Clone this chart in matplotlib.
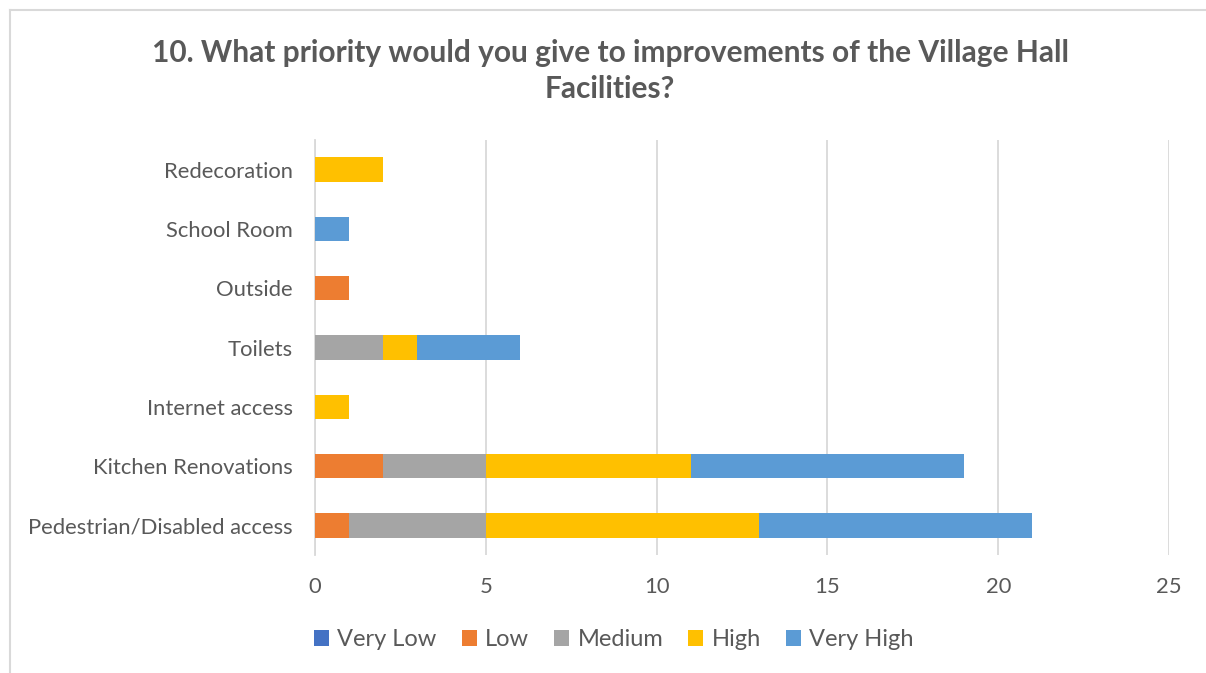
import matplotlib
matplotlib.use("Agg")
import matplotlib.pyplot as plt
from matplotlib.lines import Line2D
import numpy as np

categories = ["Pedestrian/Disabled access", "Kitchen Renovations", "Internet access",
              "Toilets", "Outside", "School Room", "Redecoration"]
series_names = ["Very Low", "Low", "Medium", "High", "Very High"]
very_low = [0, 0, 0, 0, 0, 0, 0]
low = [1, 2, 0, 0, 1, 0, 0]
medium = [4, 3, 0, 2, 0, 0, 0]
high = [8, 6, 1, 1, 0, 0, 2]
very_high = [8, 8, 0, 3, 0, 1, 0]
colors = ["#4472C4", "#ED7D31", "#A5A5A5", "#FFC000", "#5B9BD5"]
title = "10. What priority would you give to improvements of the Village Hall\nFacilities?"
xticks = [0, 5, 10, 15, 20, 25]

plt.rcParams['font.family'] = ['Lato', 'DejaVu Sans']
fig = plt.figure(figsize=(12.06, 6.73), dpi=100)
fig.patch.set_facecolor("white")
# chart-area border (only top and left visible in the reference crop)
bx, by = 10/1206, 1 - 10/673
fig.add_artist(Line2D([bx, 1.0], [by, by], transform=fig.transFigure, color="#D9D9D9", linewidth=1.5))
fig.add_artist(Line2D([bx, bx], [0.0, by], transform=fig.transFigure, color="#D9D9D9", linewidth=1.5))

ax = fig.add_axes([315/1206, 1 - 555/673, 854/1206, 415/673])
y = np.arange(len(categories))
left = np.zeros(len(categories))
for name, vals, c in zip(series_names, [very_low, low, medium, high, very_high], colors):
    vals = np.array(vals, dtype=float)
    ax.barh(y, vals, left=left, height=0.41, color=c, label=name, zorder=3)
    left += vals

ax.set_xlim(0, 25)
ax.set_ylim(-0.5, len(categories) - 0.5)
ax.set_xticks(xticks)
ax.set_yticks(y)
ax.set_yticklabels(categories)
ax.grid(axis="x", color="#D9D9D9", linewidth=1.3, zorder=0)
for s in ["top", "right", "bottom"]:
    ax.spines[s].set_visible(False)
ax.spines["left"].set_color("#D9D9D9")
ax.spines["left"].set_linewidth(1.3)
ax.tick_params(axis="both", length=0, labelsize=15.8, colors="#595959")
ax.tick_params(axis="y", pad=16)
ax.tick_params(axis="x", pad=16)

fig.text(0.506, 1 - 71/673, title, ha="center", va="center", fontsize=21.5, fontweight="bold",
         color="#595959", linespacing=1.35)

leg = fig.legend(loc="center", bbox_to_anchor=(0.509, 1 - 640/673), ncol=5, frameon=False,
                 fontsize=17, handlelength=0.65, handleheight=0.65, handletextpad=0.35, columnspacing=1.05)
for t in leg.get_texts():
    t.set_color("#595959")

fig.savefig("out.png", dpi=100)
